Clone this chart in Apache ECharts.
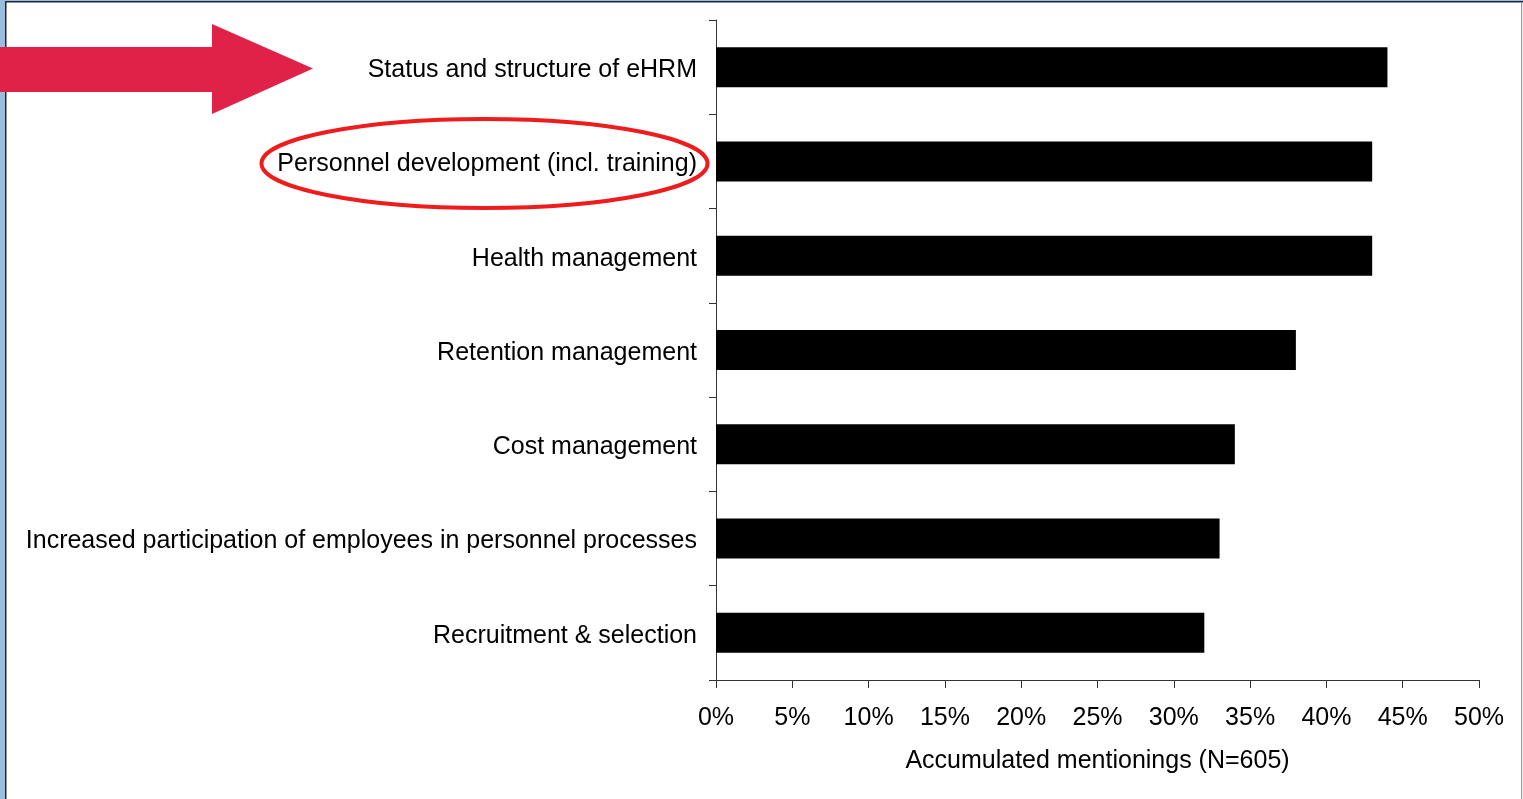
<!DOCTYPE html>
<html>
<head>
<meta charset="utf-8">
<script src="https://cdn.jsdelivr.net/npm/echarts@6/dist/echarts.min.js"></script>
<style>
  html, body { margin: 0; padding: 0; background: #fff; }
  #chart { width: 1523px; height: 799px; }
</style>
</head>
<body>
<div id="chart"></div>
<script>
// Topics, listed top to bottom
const categories = [
  'Status and structure of eHRM',
  'Personnel development (incl. training)',
  'Health management',
  'Retention management',
  'Cost management',
  'Increased participation of employees in personnel processes',
  'Recruitment & selection'
];
// Share of accumulated mentionings, in percent
const mentionings = [44, 43, 43, 38, 34, 33, 32];
// X axis range and step, in percent
const axisMin = 0;
const axisMax = 50;
const axisStep = 5;
const axisTitle = 'Accumulated mentionings (N=605)';

const FONT = '"Liberation Sans", Arial, sans-serif';
const chart = echarts.init(document.getElementById('chart'));

chart.setOption({
  animation: false,
  backgroundColor: '#ffffff',
  grid: { left: 716, right: 44, top: 20, bottom: 119, containLabel: false },
  xAxis: {
    type: 'value',
    min: axisMin,
    max: axisMax,
    interval: axisStep,
    name: axisTitle,
    nameLocation: 'middle',
    nameGap: 69,
    nameTextStyle: { color: '#000', fontSize: 25, fontFamily: FONT },
    axisLine: { show: true, lineStyle: { color: '#333', width: 1 } },
    axisTick: { show: true, length: 8, inside: false, lineStyle: { color: '#333', width: 1 } },
    axisLabel: {
      color: '#000', fontSize: 25, fontFamily: FONT, margin: 26,
      formatter: v => v + '%'
    },
    splitLine: { show: false }
  },
  yAxis: {
    type: 'category',
    data: categories,
    inverse: true,
    axisLine: { show: true, lineStyle: { color: '#333', width: 1 } },
    axisTick: { show: true, length: 7, alignWithLabel: false, lineStyle: { color: '#333', width: 1 } },
    axisLabel: {
      margin: 19,
      formatter: v => '{t|' + v + '}',
      rich: {
        t: { color: '#000', fontSize: 25, fontFamily: FONT, padding: [6, 0, 0, 0] }
      }
    },
    splitLine: { show: false }
  },
  series: [{
    type: 'bar',
    data: mentionings,
    barWidth: 40,
    itemStyle: { color: '#000000' },
    emphasis: { disabled: true }
  }],
  graphic: [
    // window frame
    { type: 'rect', z: 10, shape: { x: 0, y: 0, width: 5, height: 799 }, style: { fill: '#9dbde0' } },
    { type: 'rect', z: 10, shape: { x: 0, y: 0, width: 1523, height: 1 }, style: { fill: '#9dbde0' } },
    { type: 'rect', z: 11, shape: { x: 5, y: 1, width: 1.5, height: 798 }, style: { fill: '#1f2836' } },
    { type: 'rect', z: 11, shape: { x: 5, y: 1, width: 1518, height: 1.5 }, style: { fill: '#1f2836' } },
    { type: 'rect', z: 11, shape: { x: 1521, y: 2, width: 1.2, height: 797 }, style: { fill: '#9a9a9a' } },
    // pointer arrow
    {
      type: 'polygon', z: 20,
      shape: { points: [[0, 47], [212, 47], [212, 24], [313, 68.5], [212, 114], [212, 92], [0, 92]] },
      style: { fill: '#e02248' }
    },
    // highlight ring
    {
      type: 'ellipse', z: 20,
      shape: { cx: 484.5, cy: 163.5, rx: 223, ry: 44.5 },
      style: { fill: 'none', stroke: '#ee1c1c', lineWidth: 4 }
    }
  ]
});
</script>
</body>
</html>
